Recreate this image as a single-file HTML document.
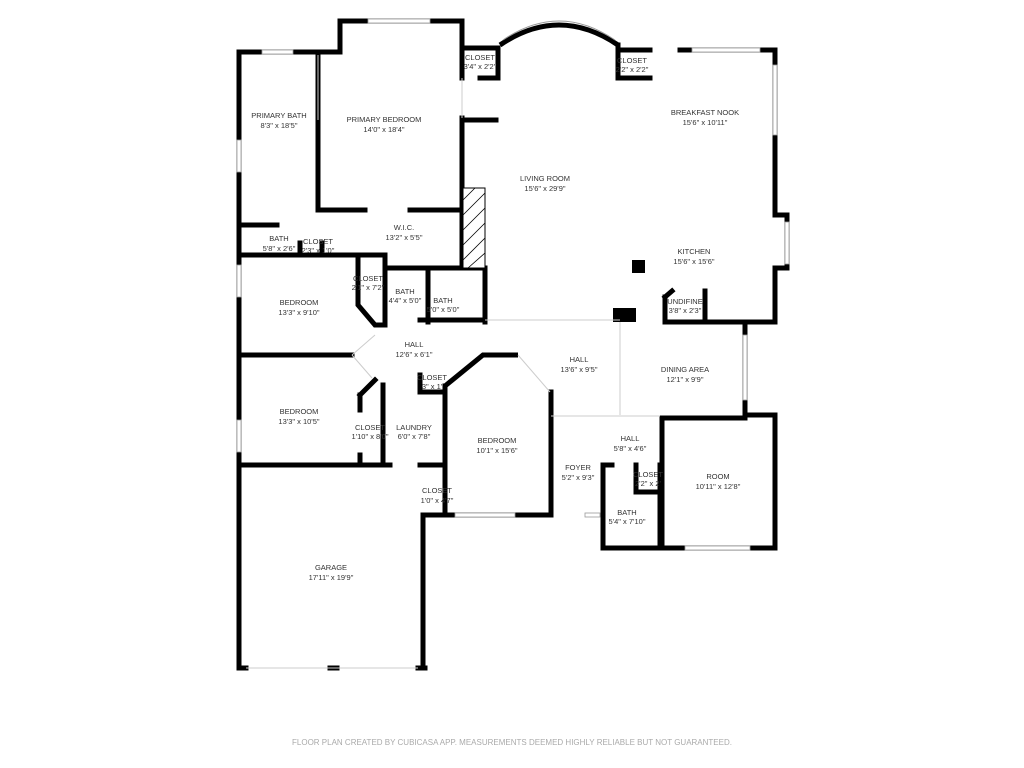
<!DOCTYPE html>
<html><head><meta charset="utf-8"><style>
html,body{margin:0;padding:0;background:#fff;}
svg{display:block;}
text{font-family:"Liberation Sans",sans-serif;font-size:7.5px;fill:#333;text-anchor:middle;}
.w{stroke:#000;stroke-width:5;fill:none;stroke-linecap:square;}
.t{stroke:#ccc;stroke-width:1;fill:none;}
.win{fill:#fff;stroke:#999;stroke-width:0.8;}
</style></head><body>
<svg width="1024" height="768" viewBox="0 0 1024 768" xmlns="http://www.w3.org/2000/svg">
<!-- outer walls -->
<path class="w" d="M239,668 V52 H340 V21 H462 V72"/>
<path class="w" d="M462,118 V268"/>
<path class="w" d="M462,120 H496"/>
<path class="w" d="M462,72 V78 M462,48 H498 V78 M480,78 H498"/>
<!-- bay arc -->
<path d="M500,45 Q559,5 618,45" fill="none" stroke="#000" stroke-width="5"/>
<path d="M503,40 Q559,2 615,40" fill="none" stroke="#999" stroke-width="1"/>
<path class="w" d="M618,45 V78 H650 M618,50 H650"/>
<path class="w" d="M680,50 H775 V215 H787 V268 H775 V322 H665"/>
<path class="w" d="M745,322 V415 H775 V548 H603 V465 H612"/>
<path class="w" d="M662,420 V548"/>
<path class="w" d="M662,418 H745"/>
<path class="w" d="M636,465 V492 H660 M660,465 V548"/>
<path class="w" d="M551,392 V515 H423 V668"/>
<path class="w" d="M445,386 V515"/>
<path d="M445,386 L483,355 H518" stroke="#000" stroke-width="5" fill="none"/>
<path class="t" d="M518,355 L550,392"/>
<path class="w" d="M239,465 H390 M420,465 H445"/>
<path class="w" d="M239,355 H352"/>
<path class="w" d="M239,255 H385 V325"/>
<path class="w" d="M358,255 V305 L375,325 H385"/>
<path class="w" d="M385,268 H485 V322 M428,268 V322 M420,320 H485"/>
<path class="w" d="M239,225 H277"/>
<path class="w" d="M300,243 V255 M322,243 V255"/>
<path class="w" d="M318,55 V210 H365 M410,210 H462"/>
<path class="w" d="M383,385 V465 M360,395 V410 M360,455 V465 M360,395 L375,380"/>
<path class="w" d="M420,375 V392 H445"/>
<path class="w" d="M665,297 V322 M665,297 L672,291 M705,291 V322"/>
<path class="w" d="M239,668 H246 M330,668 H337 M418,668 H425"/>
<path class="t" d="M246,668 H418"/>
<rect x="632" y="260" width="13" height="13" fill="#000"/>
<rect x="613" y="308" width="23" height="14" fill="#000"/>
<!-- fireplace -->
<rect x="463" y="188" width="22" height="80" fill="#fff" stroke="#000" stroke-width="1"/>
<path d="M463,200 L475,188 M463,215 L485,193 M463,230 L485,208 M463,245 L485,223 M463,260 L485,238 M468,268 L485,253" stroke="#000" stroke-width="0.8"/>
<!-- thin interior lines -->
<path class="t" d="M485,320 H620 M620,322 V415 M551,416 H660 M318,55 V120 M462,78 V118 M352,355 L372,378 M352,355 L375,335"/>
<!-- windows -->
<rect class="win" x="262" y="50" width="31" height="4"/>
<rect class="win" x="368" y="19" width="62" height="4"/>
<rect class="win" x="692" y="48" width="68" height="4"/>
<rect class="win" x="773" y="65" width="4" height="70"/>
<rect class="win" x="785" y="222" width="4" height="42"/>
<rect class="win" x="743" y="335" width="4" height="65"/>
<rect class="win" x="685" y="546" width="65" height="4"/>
<rect class="win" x="455" y="513" width="60" height="4"/>
<rect class="win" x="237" y="140" width="4" height="32"/>
<rect class="win" x="237" y="265" width="4" height="32"/>
<rect class="win" x="237" y="420" width="4" height="32"/>
<rect class="win" x="585" y="513" width="15" height="4"/>
<!-- labels -->
<text x="279" y="118">PRIMARY BATH</text><text x="279" y="128">8'3" x 18'5"</text>
<text x="384" y="122">PRIMARY BEDROOM</text><text x="384" y="132">14'0" x 18'4"</text>
<text x="480" y="60">CLOSET</text><text x="480" y="69">3'4" x 2'2"</text>
<text x="632" y="63">CLOSET</text><text x="632" y="72">2'2" x 2'2"</text>
<text x="705" y="115">BREAKFAST NOOK</text><text x="705" y="125">15'6" x 10'11"</text>
<text x="545" y="181">LIVING ROOM</text><text x="545" y="191">15'6" x 29'9"</text>
<text x="694" y="254">KITCHEN</text><text x="694" y="264">15'6" x 15'6"</text>
<text x="404" y="230">W.I.C.</text><text x="404" y="240">13'2" x 5'5"</text>
<text x="279" y="241">BATH</text><text x="279" y="251">5'8" x 2'6"</text>
<text x="318" y="244">CLOSET</text><text x="318" y="253">2'3" x 1'0"</text>
<text x="368" y="281">CLOSET</text><text x="368" y="290">2'1" x 7'2"</text>
<text x="405" y="294">BATH</text><text x="405" y="303">4'4" x 5'0"</text>
<text x="443" y="303">BATH</text><text x="443" y="312">5'0" x 5'0"</text>
<text x="299" y="305">BEDROOM</text><text x="299" y="315">13'3" x 9'10"</text>
<text x="685" y="304">UNDIFINE</text><text x="685" y="313">3'8" x 2'3"</text>
<text x="414" y="347">HALL</text><text x="414" y="357">12'6" x 6'1"</text>
<text x="579" y="362">HALL</text><text x="579" y="372">13'6" x 9'5"</text>
<text x="685" y="372">DINING AREA</text><text x="685" y="382">12'1" x 9'9"</text>
<text x="432" y="380">CLOSET</text><text x="432" y="389">3" x 1'</text>
<text x="299" y="414">BEDROOM</text><text x="299" y="424">13'3" x 10'5"</text>
<text x="370" y="430">CLOSET</text><text x="370" y="439">1'10" x 8'0"</text>
<text x="414" y="430">LAUNDRY</text><text x="414" y="439">6'0" x 7'8"</text>
<text x="497" y="443">BEDROOM</text><text x="497" y="453">10'1" x 15'6"</text>
<text x="630" y="441">HALL</text><text x="630" y="451">5'8" x 4'6"</text>
<text x="578" y="470">FOYER</text><text x="578" y="480">5'2" x 9'3"</text>
<text x="648" y="477">CLOSET</text><text x="648" y="486">2'2" x 2'</text>
<text x="718" y="479">ROOM</text><text x="718" y="489">10'11" x 12'8"</text>
<text x="437" y="493">CLOSET</text><text x="437" y="503">1'0" x 4'7"</text>
<text x="627" y="515">BATH</text><text x="627" y="524">5'4" x 7'10"</text>
<text x="331" y="570">GARAGE</text><text x="331" y="580">17'11" x 19'9"</text>
<text x="512" y="745" style="fill:#aaa;font-size:8px">FLOOR PLAN CREATED BY CUBICASA APP. MEASUREMENTS DEEMED HIGHLY RELIABLE BUT NOT GUARANTEED.</text>
</svg>
</body></html>
